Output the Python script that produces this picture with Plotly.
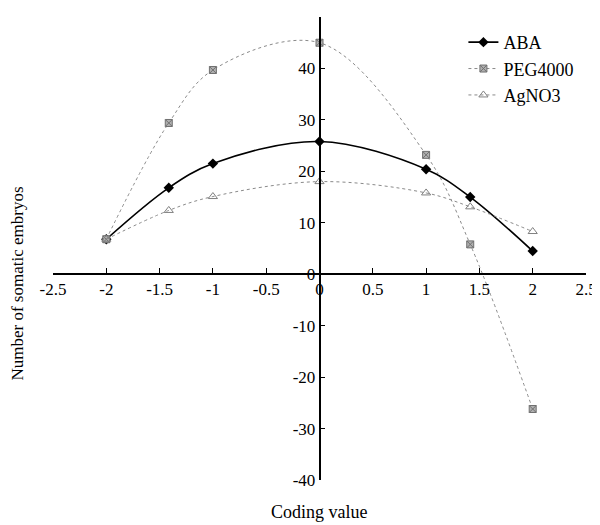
import plotly.graph_objects as go

coding = [-2, -1.414, -1, 0, 1, 1.414, 2]
aba = [6.8, 16.8, 21.5, 25.8, 20.4, 15.0, 4.5]
peg4000 = [6.8, 29.4, 39.7, 45.0, 23.2, 5.8, -26.2]
agno3 = [6.8, 12.4, 15.1, 18.0, 15.8, 13.1, 8.3]

x_ticks = [-2.5, -2, -1.5, -1, -0.5, 0, 0.5, 1, 1.5, 2, 2.5]
x_labels = ["-2.5", "-2", "-1.5", "-1", "-0.5", "0", "0.5", "1", "1.5", "2", "2.5"]
y_ticks = [-40, -30, -20, -10, 0, 10, 20, 30, 40, 50]
y_labels = ["-40", "-30", "-20", "-10", "0", "10", "20", "30", "40", "50"]

FONT = "Liberation Serif, Times New Roman, serif"

fig = go.Figure()
fig.add_trace(go.Scatter(
    x=coding, y=aba, name="ABA", mode="lines+markers",
    line=dict(color="black", width=1.6, shape="spline"),
    marker=dict(symbol="diamond", size=8, color="black")))
fig.add_trace(go.Scatter(
    x=coding, y=peg4000, name="PEG4000", mode="lines+markers",
    line=dict(color="#8a8a8a", width=1, shape="spline", dash="dot"),
    marker=dict(symbol="square-x", size=7, color="#b0b0b0",
                line=dict(color="#707070", width=1))))
fig.add_trace(go.Scatter(
    x=coding, y=agno3, name="AgNO3", mode="lines+markers",
    line=dict(color="#8a8a8a", width=1, shape="spline", dash="dot"),
    marker=dict(symbol="triangle-up-open", size=8, color="#808080",
                line=dict(color="#808080", width=1))))

fig.update_layout(
    width=592, height=517,
    margin=dict(l=45, r=14, t=9, b=44.5, autoexpand=False),
    plot_bgcolor="white", paper_bgcolor="white",
    font=dict(family=FONT, size=16, color="black"),
    showlegend=True,
    legend=dict(x=0.77, y=0.985, xanchor="left", yanchor="top",
                bgcolor="rgba(0,0,0,0)", font=dict(size=18),
                itemwidth=30, tracegroupgap=0),
    xaxis=dict(range=[-2.5, 2.5], tickvals=x_ticks, ticktext=x_labels,
               showgrid=False, zeroline=False, showline=True,
               linecolor="black", linewidth=1.5, automargin=False,
               ticks="inside", ticklen=5, tickcolor="black",
               anchor="free", position=40/90,
               tickfont=dict(size=17)),
    yaxis=dict(range=[-40, 50], tickvals=y_ticks, ticktext=y_labels,
               showgrid=False, zeroline=False, showline=True,
               linecolor="black", linewidth=1.5, automargin=False,
               ticks="inside", ticklen=5, tickcolor="black",
               anchor="free", position=0.5,
               tickfont=dict(size=17)),
    annotations=[
        dict(text="Number of somatic embryos", x=-0.067, y=0.425,
             xref="paper", yref="paper", showarrow=False, textangle=-90,
             font=dict(size=17), xanchor="center", yanchor="middle"),
        dict(text="Coding value", x=0, y=-0.07, xref="x", yref="paper",
             showarrow=False, font=dict(size=18), xanchor="center", yanchor="middle"),
    ],
)

fig.write_html("out.html")
